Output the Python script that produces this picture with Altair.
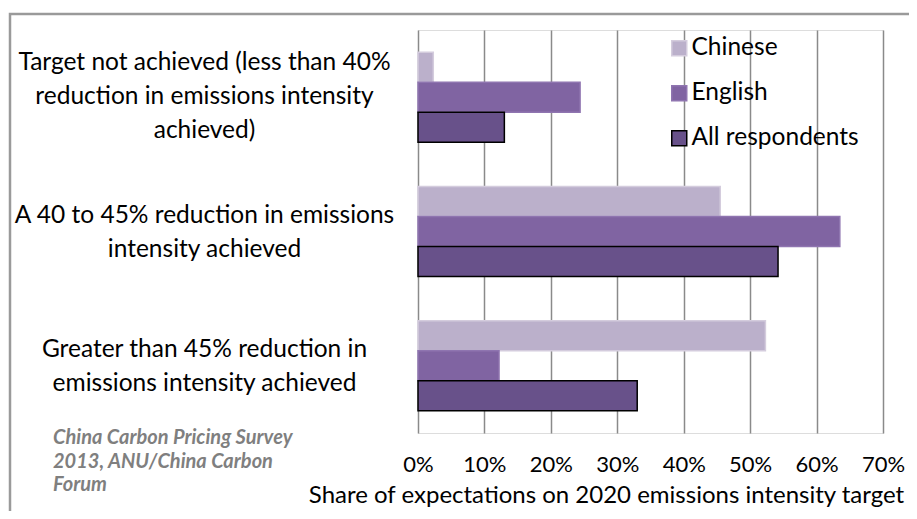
import altair as alt
import pandas as pd

categories = [
    "Target not achieved (less than 40%|reduction in emissions intensity|achieved)",
    "A 40 to 45% reduction in emissions|intensity achieved",
    "Greater than 45% reduction in|emissions intensity achieved",
]
series = ["Chinese", "English", "All respondents"]
chinese = [2.3, 45.5, 52.3]
english = [24.4, 63.5, 12.2]
all_resp = [13.0, 54.2, 33.0]
x_ticks = [0, 10, 20, 30, 40, 50, 60, 70]
source_lines = ["China Carbon Pricing Survey", "2013, ANU/China Carbon", "Forum"]

colors = ["#BBB0CB", "#8064A2", "#68518A"]
strokes = ["#D4CCDD", "#8F75B0", "#000000"]

rows = []
for i, c in enumerate(categories):
    for s, vals in zip(series, [chinese, english, all_resp]):
        rows.append({"category": c, "series": s, "value": vals[i]})
df = pd.DataFrame(rows)

FONT = "Lato"

bars = alt.Chart(df).mark_bar(strokeWidth=1.5).encode(
    x=alt.X(
        "value:Q",
        scale=alt.Scale(domain=[0, 70], nice=False),
        axis=alt.Axis(
            values=x_ticks,
            labelExpr="datum.value + '%'",
            labelOverlap=False,
            labelFlush=False,
            title="Share of expectations on 2020 emissions intensity target",
            domain=False,
            ticks=False,
            tickSize=0,
            grid=True,
            gridColor="#8A8A8A",
            gridWidth=1.5,
            labelFontSize=22,
            labelPadding=21,
            labelColor="#000000",
            titleFontSize=24,
            titleFontWeight="normal",
            titleColor="#000000",
            titlePadding=8,
            titleAlign="center",
            titleX=188,
            labelFont=FONT,
            titleFont=FONT,
        ),
    ),
    y=alt.Y(
        "category:N",
        sort=categories,
        scale=alt.Scale(paddingInner=0.33, paddingOuter=0.165),
        axis=alt.Axis(
            title=None,
            domain=False,
            ticks=False,
            tickSize=0,
            labelAlign="center",
            labelBaseline="middle",
            labelPadding=214,
            labelLimit=0,
            labelFontSize=24.5,
            labelLineHeight=34,
            labelColor="#000000",
            labelFont=FONT,
            labelExpr="split(datum.label, '|')",
            labelOffset={
                "condition": {"test": "length(split(datum.label, '|')) > 2", "value": -34},
                "value": -16,
            },
        ),
    ),
    yOffset=alt.YOffset("series:N", sort=series, scale=alt.Scale(paddingInner=0, paddingOuter=0)),
    fill=alt.Fill(
        "series:N",
        sort=series,
        scale=alt.Scale(domain=series, range=colors),
        legend=alt.Legend(
            title=None,
            orient="none",
            legendX=249,
            legendY=6,
            padding=0,
            symbolType="square",
            symbolSize=225,
            symbolStrokeWidth=1.5,
            labelFontSize=24.5,
            labelFont=FONT,
            labelColor="#000000",
            labelLimit=0,
            rowPadding=20,
            labelOffset=0,
        ),
    ),
    stroke=alt.Stroke(
        "series:N",
        sort=series,
        scale=alt.Scale(domain=series, range=strokes),
        legend=None,
    ),
)

src = pd.DataFrame({"t": [source_lines]})
source = alt.Chart(src).mark_text(
    align="left",
    baseline="top",
    font=FONT,
    fontSize=20,
    fontStyle="italic",
    fontWeight="bold",
    color="#7F7F7F",
    lineHeight=23.5,
).encode(text="t", x=alt.value(-365), y=alt.value(398))

frame_df = pd.DataFrame({"k": [0]})
frame = alt.Chart(frame_df).mark_rect(
    fill=None, stroke="#9A9A9A", strokeWidth=2.5
).encode(x=alt.value(-408), x2=alt.value(560), y=alt.value(-16), y2=alt.value(600))

chart = alt.layer(frame, bars, source).properties(
    width=465,
    height=403,
    padding={"left": 410, "top": 22, "right": 26, "bottom": 78},
    autosize=alt.AutoSizeParams(type="none"),
).configure_view(stroke=None).configure(background="white")

chart.save("out.html", embed_options={"renderer": "svg", "actions": False})
